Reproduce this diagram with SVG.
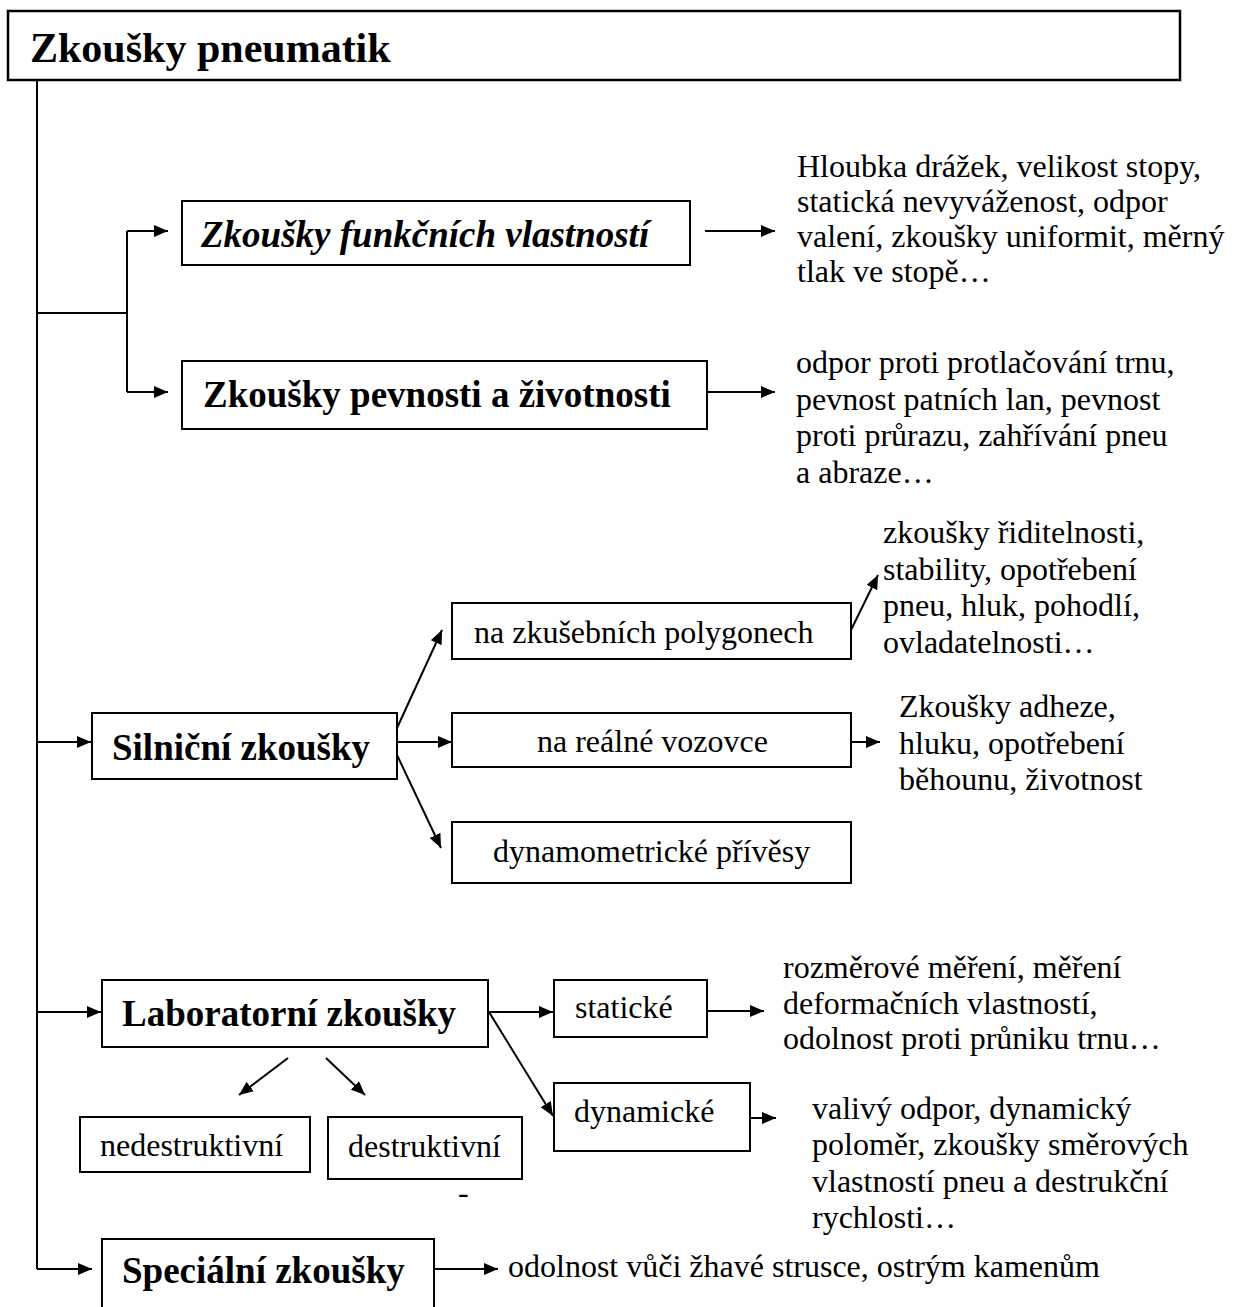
<svg xmlns="http://www.w3.org/2000/svg" width="1239" height="1307" viewBox="0 0 1239 1307">
<defs>
<marker id="ah" markerUnits="userSpaceOnUse" markerWidth="14" markerHeight="12" refX="14" refY="6" orient="auto">
<path d="M0,0 L14,6 L0,12 z" fill="#000"/>
</marker>
<style>
.box{fill:#fff;stroke:#000;stroke-width:2}
.ln{fill:none;stroke:#000;stroke-width:2}
.ar{fill:none;stroke:#000;stroke-width:2;marker-end:url(#ah)}
text{font-family:"Liberation Serif","Times New Roman",serif;fill:#000}
.t{font-size:32px}
.b{font-size:37px;font-weight:bold}
.bi{font-size:37px;font-weight:bold;font-style:italic}
.h{font-size:42px;font-weight:bold}
</style>
</defs>
<rect width="1239" height="1307" fill="#fff"/>

<g id="connectors">
<polyline class="ln" points="37,80 37,1269"/>
<polyline class="ln" points="37,313 127,313"/>
<polyline class="ln" points="127,231 127,392"/>
<line class="ar" x1="127" y1="231" x2="168" y2="231"/>
<line class="ar" x1="127" y1="392" x2="168" y2="392"/>
<line class="ar" x1="705" y1="231" x2="775" y2="231"/>
<line class="ar" x1="707" y1="392" x2="775" y2="392"/>
<line class="ar" x1="37" y1="742" x2="91" y2="742"/>
<line class="ar" x1="397" y1="728" x2="442" y2="630"/>
<line class="ar" x1="397" y1="742" x2="452" y2="742"/>
<line class="ar" x1="397" y1="755" x2="441" y2="848"/>
<line class="ar" x1="851" y1="630" x2="878" y2="575"/>
<line class="ar" x1="851" y1="742" x2="880" y2="742"/>
<line class="ar" x1="37" y1="1012" x2="101" y2="1012"/>
<line class="ar" x1="488" y1="1012" x2="553" y2="1012"/>
<line class="ar" x1="489" y1="1012" x2="553" y2="1116"/>
<line class="ar" x1="707" y1="1011" x2="764" y2="1011"/>
<line class="ar" x1="750" y1="1118" x2="776" y2="1118"/>
<line class="ar" x1="288" y1="1058" x2="239" y2="1095"/>
<line class="ar" x1="326" y1="1058" x2="365" y2="1095"/>
<line class="ar" x1="37" y1="1269" x2="92" y2="1269"/>
<line class="ar" x1="434" y1="1269" x2="498" y2="1269"/>
</g>

<g id="title">
<rect class="box" x="8" y="11" width="1172" height="69" style="stroke-width:2.5"/>
<text class="h" x="30" y="62">Zkoušky pneumatik</text>
</g>

<g id="funkcni">
<rect class="box" x="182" y="201" width="508" height="64"/>
<text class="bi" x="201" y="247">Zkoušky funkčních vlastností</text>
</g>
<g id="funkcni-note">
<text class="t"><tspan x="797" y="177">Hloubka drážek, velikost stopy,</tspan><tspan x="797" y="212">statická nevyváženost, odpor</tspan><tspan x="797" y="247">valení, zkoušky uniformit, měrný</tspan><tspan x="797" y="282">tlak ve stopě…</tspan></text>
</g>

<g id="pevnost">
<rect class="box" x="182" y="361" width="525" height="68"/>
<text class="b" x="203" y="407">Zkoušky pevnosti a životnosti</text>
</g>
<g id="pevnost-note">
<text class="t"><tspan x="796" y="373">odpor proti protlačování trnu,</tspan><tspan x="796" y="409.5">pevnost patních lan, pevnost</tspan><tspan x="796" y="446">proti průrazu, zahřívání pneu</tspan><tspan x="796" y="482.5">a abraze…</tspan></text>
</g>

<g id="silnicni">
<rect class="box" x="92" y="713" width="305" height="66"/>
<text class="b" x="112" y="760">Silniční zkoušky</text>
</g>
<g id="polygony">
<rect class="box" x="452" y="603" width="399" height="56"/>
<text class="t" x="474" y="643">na zkušebních polygonech</text>
</g>
<g id="polygony-note">
<text class="t"><tspan x="883" y="543">zkoušky řiditelnosti,</tspan><tspan x="883" y="579.5">stability, opotřebení</tspan><tspan x="883" y="616">pneu, hluk, pohodlí,</tspan><tspan x="883" y="652.5">ovladatelnosti…</tspan></text>
</g>
<g id="vozovka">
<rect class="box" x="452" y="713" width="399" height="54"/>
<text class="t" x="537" y="752">na reálné vozovce</text>
</g>
<g id="vozovka-note">
<text class="t"><tspan x="899" y="717">Zkoušky adheze,</tspan><tspan x="899" y="753.5">hluku, opotřebení</tspan><tspan x="899" y="790">běhounu, životnost</tspan></text>
</g>
<g id="privesy">
<rect class="box" x="452" y="822" width="399" height="61"/>
<text class="t" x="493" y="862">dynamometrické přívěsy</text>
</g>

<g id="laboratorni">
<rect class="box" x="102" y="980" width="386" height="67"/>
<text class="b" x="122" y="1026">Laboratorní zkoušky</text>
</g>
<g id="staticke">
<rect class="box" x="554" y="980" width="153" height="57"/>
<text class="t" x="575" y="1018">statické</text>
</g>
<g id="staticke-note">
<text class="t"><tspan x="783" y="978">rozměrové měření, měření</tspan><tspan x="783" y="1013.5">deformačních vlastností,</tspan><tspan x="783" y="1049">odolnost proti průniku trnu…</tspan></text>
</g>
<g id="dynamicke">
<rect class="box" x="554" y="1083" width="196" height="68"/>
<text class="t" x="574" y="1122">dynamické</text>
</g>
<g id="dynamicke-note">
<text class="t"><tspan x="812" y="1119">valivý odpor, dynamický</tspan><tspan x="812" y="1155">poloměr, zkoušky směrových</tspan><tspan x="812" y="1191.5">vlastností pneu a destrukční</tspan><tspan x="812" y="1228">rychlosti…</tspan></text>
</g>
<g id="nedestruktivni">
<rect class="box" x="80" y="1117" width="230" height="55"/>
<text class="t" x="100" y="1156">nedestruktivní</text>
</g>
<g id="destruktivni">
<rect class="box" x="328" y="1117" width="194" height="62"/>
<text class="t" x="348" y="1157">destruktivní</text>
</g>
<g id="dash">
<text class="t" x="458" y="1203">-</text>
</g>

<g id="specialni">
<rect class="box" x="102" y="1239" width="332" height="80"/>
<text class="b" x="122" y="1283">Speciální zkoušky</text>
</g>
<g id="specialni-note">
<text class="t" x="508" y="1277">odolnost vůči žhavé strusce, ostrým kamenům</text>
</g>
</svg>
